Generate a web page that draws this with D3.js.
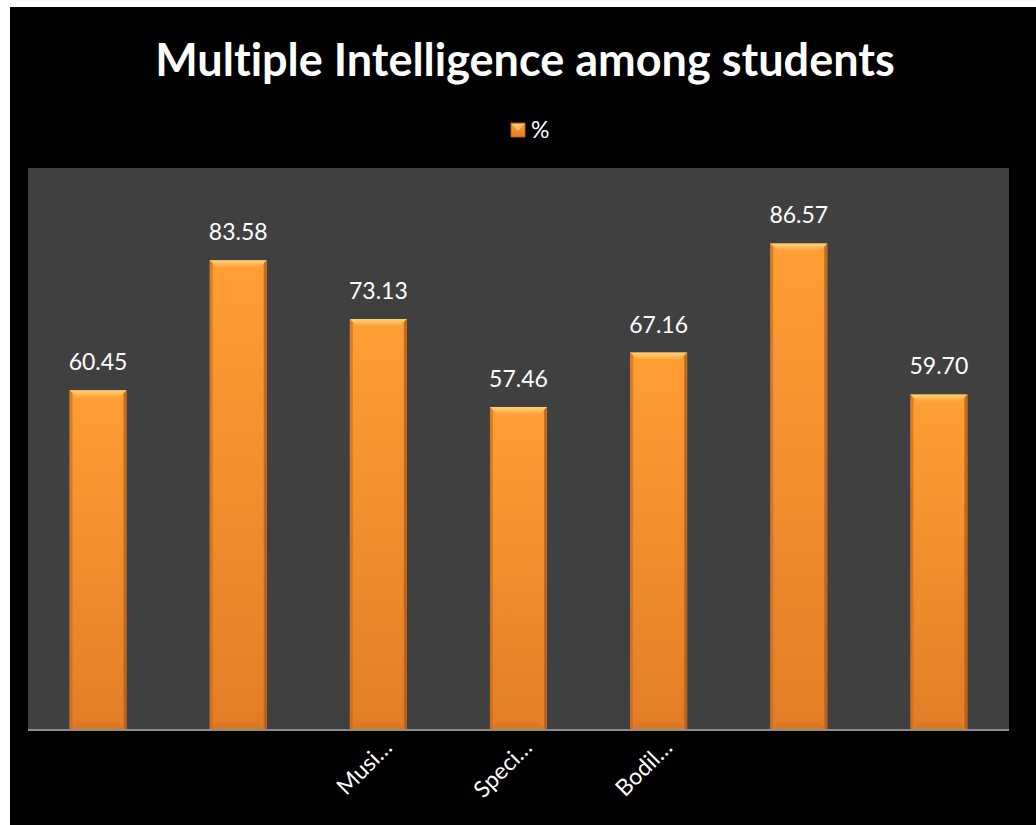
<!DOCTYPE html>
<html><head><meta charset="utf-8">
<script src="https://cdn.jsdelivr.net/npm/d3@7"></script>
<style>html,body{margin:0;padding:0;background:#fff;}svg{display:block;}text{font-variant-ligatures:none;font-feature-settings:"liga" 0;}</style>
</head><body><svg id="c" width="1036" height="825"></svg>
<script>
const categories = ["Linguistic", "Logical-Mathematical", "Musical", "Spatial", "Bodily-Kinesthetic", "Interpersonal", "Intrapersonal"];
const tickLabels = ["", "", "Musi…", "Speci…", "Bodil…", "", ""];
const values = [60.45, 83.58, 73.13, 57.46, 67.16, 86.57, 59.70];
const seriesName = "%";
const title = "Multiple Intelligence among students";

const svg = d3.select("#c");
const font = "Lato, 'Open Sans', sans-serif";
svg.append("rect").attr("x",10).attr("y",7).attr("width",1026).attr("height",818).attr("fill","#000");

const defs = svg.append("defs");
const g1 = defs.append("linearGradient").attr("id","barg").attr("x1",0).attr("y1",0).attr("x2",0).attr("y2",1);
g1.append("stop").attr("offset","0%").attr("stop-color","#ff9f35");
g1.append("stop").attr("offset","100%").attr("stop-color","#e27d26");
const g2 = defs.append("linearGradient").attr("id","topg").attr("x1",0).attr("y1",0).attr("x2",0).attr("y2",1);
g2.append("stop").attr("offset","0%").attr("stop-color","#fbd27a");
g2.append("stop").attr("offset","100%").attr("stop-color","#ffa43a");

const plot = {l:28, r:1009, t:168, b:730};
svg.append("rect").attr("x",plot.l).attr("y",plot.t).attr("width",plot.r-plot.l).attr("height",plot.b-plot.t).attr("fill","#404040");

const x = d3.scaleBand().domain(categories).range([plot.l, plot.r]).paddingInner(0.593).paddingOuter(0.2965);
const y = d3.scaleLinear().domain([0,100]).range([plot.b, plot.t]);

svg.append("text").attr("x",525).attr("y",76).attr("text-anchor","middle").attr("fill","#fff")
  .attr("font-family",font).attr("font-weight","bold").attr("font-size",45).text(title);

// legend
svg.append("rect").attr("x",511).attr("y",123).attr("width",14).attr("height",14).attr("fill","url(#barg)").attr("stroke","#b8621a").attr("stroke-width",0.8);
svg.append("path").attr("d","M512,124 L524,124 L518,131 Z").attr("fill","#fbc46a");
svg.append("text").attr("x",531).attr("y",138).attr("fill","#fff").attr("font-family",font).attr("font-size",23).text(seriesName);

const bars = svg.append("g").selectAll("g").data(values).join("g");
bars.each(function(v,i){
  const g = d3.select(this);
  const bx = x(categories[i]), bw = x.bandwidth(), by = y(v), bh = y(0)-y(v);
  const bev = 7;
  g.append("rect").attr("x",bx).attr("y",by).attr("width",bw).attr("height",bh).attr("fill","url(#barg)");
  g.append("rect").attr("x",bx).attr("y",by).attr("width",3).attr("height",bh).attr("fill","#c4661b").attr("opacity",0.6);
  g.append("rect").attr("x",bx+bw-3).attr("y",by).attr("width",3).attr("height",bh).attr("fill","#a9561a").attr("opacity",0.7);
  g.append("path").attr("d",`M${bx},${by} L${bx+bw},${by} L${bx+bw-bev},${by+bev} L${bx+bev},${by+bev} Z`).attr("fill","url(#topg)");
  g.append("path").attr("d",`M${bx},${by+bh} L${bx+bw},${by+bh} L${bx+bw-bev},${by+bh-bev} L${bx+bev},${by+bh-bev} Z`).attr("fill","#d8741f").attr("opacity",0.6);
  g.append("text").attr("x",bx+bw/2).attr("y",by-20).attr("text-anchor","middle").attr("fill","#fff")
    .attr("font-family",font).attr("font-size",23).text(v.toFixed(2));
});

svg.append("line").attr("x1",plot.l).attr("x2",plot.r).attr("y1",plot.b).attr("y2",plot.b).attr("stroke","#8c8c8c").attr("stroke-width",2);

svg.append("g").selectAll("text").data(categories).join("text")
  .attr("transform",(d)=>`translate(${x(d)+x.bandwidth()/2+15},${plot.b+19}) rotate(-45)`)
  .attr("text-anchor","end").attr("fill","#fff").attr("font-family",font).attr("font-size",23)
  .text((d,i)=>tickLabels[i]);
</script></body></html>
